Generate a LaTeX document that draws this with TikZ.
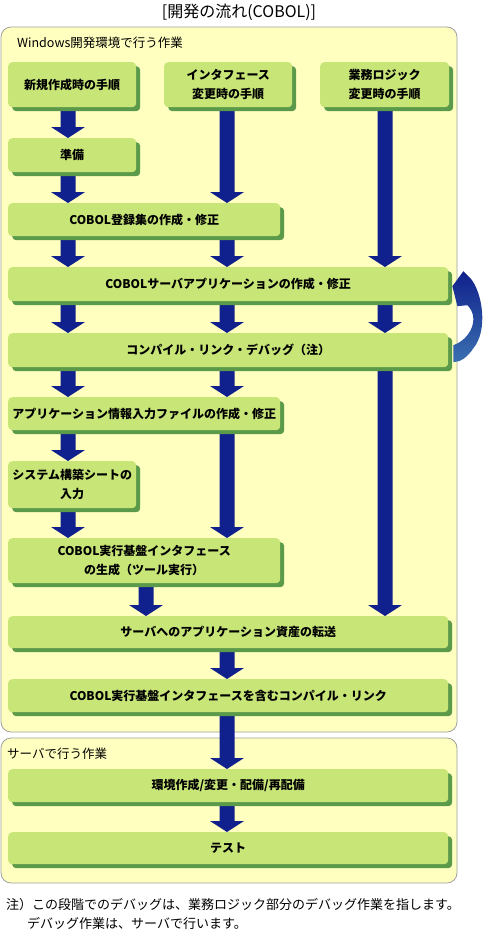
\documentclass[tikz,border=0pt]{standalone}
\usepackage{fontspec}
\setmainfont{Noto Sans CJK JP}
\usetikzlibrary{calc}
\definecolor{bgreen}{HTML}{C8E678}
\definecolor{sgreen}{HTML}{5A9A4A}
\definecolor{pyellow}{HTML}{FFFFC0}
\definecolor{frame}{HTML}{A0A0A0}
\definecolor{navy}{HTML}{10208C}
\definecolor{tailblue}{HTML}{3A70B0}
\pgfdeclarelayer{back}
\pgfdeclarelayer{mid}
\pgfsetlayers{back,mid,main}
\newcommand\fatarr[2]{%
  \fill[navy] let \p1=(#1), \p2=(#2) in
    (\x1-7.5pt,\y1) -- (\x1+7.5pt,\y1) -- (\x1+7.5pt,\y2+11pt) -- (\x1+17pt,\y2+11pt)
    -- (\x1,\y2) -- (\x1-17pt,\y2+11pt) -- (\x1-7.5pt,\y2+11pt) -- cycle;}
\begin{document}
\begin{tikzpicture}[x=1pt,y=-1pt,
  gbox/.style={rounded corners=4pt, fill=bgreen, inner sep=0pt, align=center, anchor=north west,
    font=\fontsize{12}{19}\selectfont\bfseries,
    preaction={fill=sgreen, transform canvas={xshift=4pt, yshift=-4pt}}},
  area/.style={rounded corners=10pt, fill=pyellow, draw=frame, line width=0.8pt},
  plain/.style={font=\fontsize{12.5}{14}\selectfont, anchor=west, inner sep=0pt},
  note/.style={font=\fontsize{13}{15}\selectfont, anchor=west, inner sep=0pt}]
\useasboundingbox (0,0) rectangle (483,932);
\begin{pgfonlayer}{back}
\fill[white] (0,0) rectangle (483,932);
\draw[area] (1,27) rectangle (457,732);
\draw[area] (1,738) rectangle (457,883);
\end{pgfonlayer}
% column coordinates
\coordinate (cL) at (68,0);
\coordinate (cM) at (227,0);
\coordinate (cR) at (385,0);
\coordinate (cG) at (146,0);
% texts
\node[font=\fontsize{16}{18}\selectfont, inner sep=0pt] (title) at (239,12) {[開発の流れ(COBOL)]};
\node[plain] (hwin) at (17,43) {Windows開発環境で行う作業};
\node[plain] (hsrv) at (7,754) {サーバで行う作業};
% boxes
\node[gbox, minimum width=128pt, minimum height=45pt] (b1) at (8,62) {新規作成時の手順};
\node[gbox, minimum width=128pt, minimum height=45pt] (b2) at (164,62) {インタフェース\\変更時の手順};
\node[gbox, minimum width=129pt, minimum height=45pt] (b3) at (320,62) {業務ロジック\\変更時の手順};
\node[gbox, minimum width=128pt, minimum height=34pt] (jb) at (8,138) {準備};
\node[gbox, minimum width=272pt, minimum height=33pt] (reg) at (8,203) {COBOL登録集の作成・修正};
\node[gbox, minimum width=440pt, minimum height=34pt] (sap) at (8,267) {COBOLサーバアプリケーションの作成・修正};
\node[gbox, minimum width=440pt, minimum height=34pt] (cmp) at (8,333) {コンパイル・リンク・デバッグ（注）};
\node[gbox, minimum width=272pt, minimum height=33pt] (app) at (8,397) {アプリケーション情報入力ファイルの作成・修正};
\node[gbox, minimum width=128pt, minimum height=47pt] (sys) at (8,461) {システム構築シートの\\入力};
\node[gbox, minimum width=272pt, minimum height=45pt] (gen) at (8,538) {COBOL実行基盤インタフェース\\の生成（ツール実行）};
\node[gbox, minimum width=440pt, minimum height=32pt] (tr) at (8,616) {サーバへのアプリケーション資産の転送};
\node[gbox, minimum width=440pt, minimum height=33pt] (cl) at (8,679) {COBOL実行基盤インタフェースを含むコンパイル・リンク};
\node[gbox, minimum width=440pt, minimum height=33pt] (env) at (8,769) {環境作成/変更・配備/再配備};
\node[gbox, minimum width=440pt, minimum height=32pt] (test) at (8,832) {テスト};
% connectors (behind boxes)
\begin{pgfonlayer}{mid}
\fatarr{b1.south -| cL}{jb.north -| cL}
\fatarr{jb.south -| cL}{reg.north -| cL}
\fatarr{b2.south -| cM}{reg.north -| cM}
\fatarr{reg.south -| cL}{sap.north -| cL}
\fatarr{reg.south -| cM}{sap.north -| cM}
\fatarr{b3.south -| cR}{sap.north -| cR}
\fatarr{sap.south -| cL}{cmp.north -| cL}
\fatarr{sap.south -| cM}{cmp.north -| cM}
\fatarr{sap.south -| cR}{cmp.north -| cR}
\fatarr{cmp.south -| cL}{app.north -| cL}
\fatarr{cmp.south -| cM}{app.north -| cM}
\fatarr{cmp.south -| cR}{tr.north -| cR}
\fatarr{app.south -| cL}{sys.north -| cL}
\fatarr{app.south -| cM}{gen.north -| cM}
\fatarr{sys.south -| cL}{gen.north -| cL}
\fatarr{gen.south -| cG}{tr.north -| cG}
\fatarr{tr.south -| cM}{cl.north -| cM}
\fatarr{cl.south -| cM}{env.north -| cM}
\fatarr{env.south -| cM}{test.north -| cM}
\end{pgfonlayer}
% loop-back arrow from cmp to sap
\shade[top color=navy, middle color=navy, bottom color=tailblue]
  ($(sap.east)+(4,2)$) -- ($(sap.east)+(15,-13)$) -- ($(sap.east)+(22,-6)$)
  .. controls ($(sap.east)+(34,8)$) and ($(sap.east)+(40,46)$) .. ($(cmp.east)+(25,-2)$)
  .. controls ($(cmp.east)+(19,7)$) and ($(cmp.east)+(12,12)$) .. ($(cmp.east)+(5,12)$)
  -- ($(cmp.east)+(5,-5)$)
  .. controls ($(cmp.east)+(22,-11)$) and ($(cmp.east)+(32,-32)$) .. ($(sap.east)+(19,21)$)
  -- ($(sap.east)+(9,22)$) -- cycle;
% note
\node[note] (n1) at (6,905) {注）この段階でのデバッグは、業務ロジック部分のデバッグ作業を指します。};
\node[note] (n2) at (27,923) {デバッグ作業は、サーバで行います。};
\end{tikzpicture}
\end{document}
